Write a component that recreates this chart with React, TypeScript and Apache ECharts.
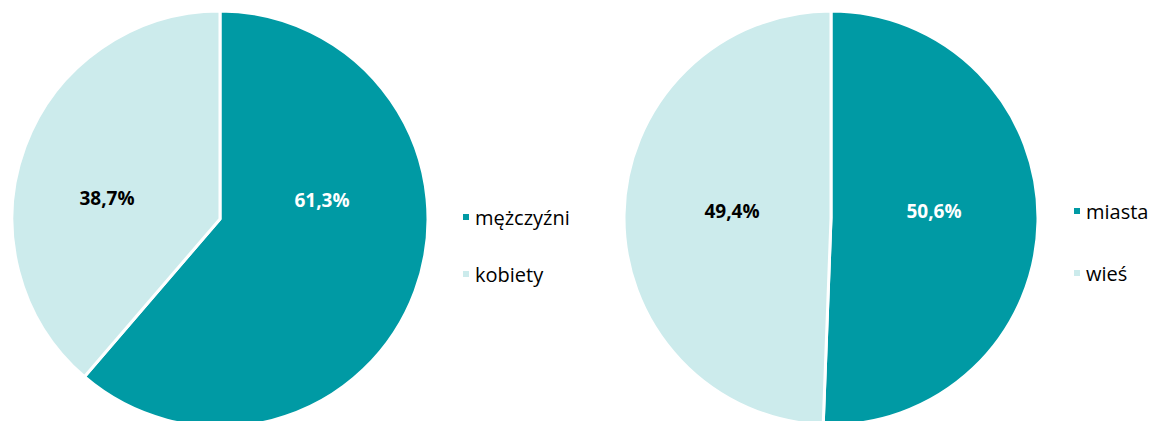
import React, { useEffect, useRef } from "react";
import * as echarts from "echarts";

const genderCategories = ["mężczyźni", "kobiety"];
const genderValues = [61.3, 38.7];
const placeCategories = ["miasta", "wieś"];
const placeValues = [50.6, 49.4];

const TEAL = "#009AA4";
const LIGHT = "#CCEBEC";
const FONT = "'Open Sans', 'Noto Sans', sans-serif";

const fmt = (v: number) => v.toFixed(1).replace(".", ",") + "%";

export default function App() {
  const ref = useRef<HTMLDivElement>(null);
  useEffect(() => {
    if (!ref.current) return;
    const chart = echarts.init(ref.current, null, { renderer: "svg" });
    const labelPos: Record<number, [number, number][]> = {
      0: [
        [322, 200],
        [107, 198],
      ],
      1: [
        [934, 211],
        [732, 211],
      ],
    };
    const makeSeries = (idx: number, cats: string[], vals: number[], center: [number, number], r: number) => ({
      type: "pie",
      center,
      radius: r,
      startAngle: 90,
      clockwise: true,
      data: cats.map((c, i) => ({
        name: c,
        value: vals[i],
        itemStyle: { color: i === 0 ? TEAL : LIGHT },
        label: { color: i === 0 ? "#ffffff" : "#000000" },
      })),
      itemStyle: { borderColor: "#ffffff", borderWidth: 3 },
      label: {
        show: true,
        position: "inside",
        formatter: (p: any) => fmt(p.value),
        fontFamily: FONT,
        fontWeight: "bold",
        fontSize: 19,
      },
      labelLine: { show: false },
      labelLayout: (p: any) => ({
        x: labelPos[idx][p.dataIndex][0],
        y: labelPos[idx][p.dataIndex][1],
        align: "center",
        verticalAlign: "middle",
      }),
      emphasis: { disabled: true },
    });
    chart.setOption({
      animation: false,
      legend: [
        {
          data: genderCategories,
          orient: "vertical",
          left: 456,
          top: 202,
          itemWidth: 8,
          itemHeight: 8,
          itemGap: 37,
          icon: "rect",
          textStyle: { fontFamily: FONT, fontSize: 20, lineHeight: 20, color: "#000" },
        },
        {
          data: placeCategories,
          orient: "vertical",
          left: 1067,
          top: 196,
          itemWidth: 8,
          itemHeight: 8,
          itemGap: 42,
          icon: "rect",
          textStyle: { fontFamily: FONT, fontSize: 20, lineHeight: 20, color: "#000" },
        },
      ],
      series: [
        makeSeries(0, genderCategories, genderValues, [220, 219], 208),
        makeSeries(1, placeCategories, placeValues, [831, 218], 207),
      ],
    });
    return () => chart.dispose();
  }, []);
  return (
    <div
      ref={ref}
      style={{ width: 1155, height: 421, position: "absolute", left: 0, top: 0 }}
    />
  );
}
